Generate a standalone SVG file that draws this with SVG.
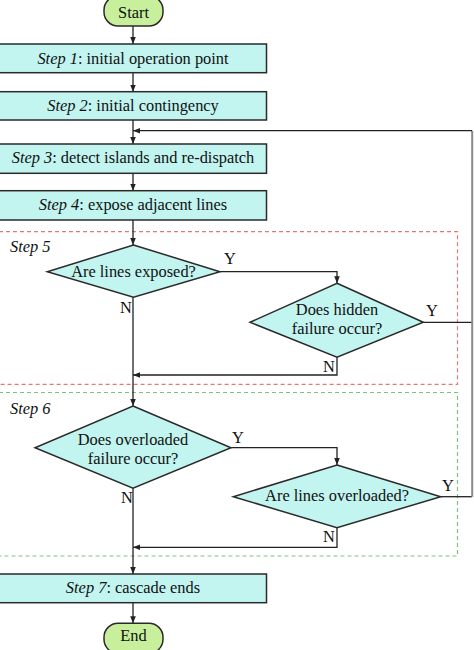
<svg xmlns="http://www.w3.org/2000/svg" width="474" height="650" viewBox="0 0 474 650" font-family="'Liberation Serif', 'DejaVu Serif', 'Times New Roman', serif">
<style>
text{font-family:"Liberation Serif","DejaVu Serif","Times New Roman",serif;font-size:16.4px;fill:#111}
.c{text-anchor:middle}
.i{font-style:italic}
.box{fill:#c2f4f0;stroke:#2a2a2a;stroke-width:1.5}
.term{fill:#c8f09c;stroke:#2a2a2a;stroke-width:1.5}
.dec{fill:#c2f4f0;stroke:#2a2a2a;stroke-width:1.5}
.ln{fill:none;stroke:#222;stroke-width:1.3}
.red{fill:none;stroke:#e07a7a;stroke-width:1.2;stroke-dasharray:4 3}
.grn{fill:none;stroke:#7cc47c;stroke-width:1.2;stroke-dasharray:4 3}
</style>
<defs>
<marker id="ah" viewBox="0 0 8 8" refX="8" refY="4" markerWidth="7" markerHeight="7" markerUnits="userSpaceOnUse" orient="auto">
<path d="M0,0.8 L8,4 L0,7.2 Z" fill="#222"/>
</marker>
</defs>
<rect width="474" height="650" fill="#fff"/>

<g id="step5-frame">
<rect class="red" x="-1" y="231.7" width="458.5" height="152.6"/>
<text class="i" x="10" y="252">Step 5</text>
</g>
<g id="step6-frame">
<rect class="grn" x="-1" y="392.5" width="458.5" height="163.5"/>
<text class="i" x="10" y="414">Step 6</text>
</g>

<g id="connectors">
<path class="ln" marker-end="url(#ah)" d="M133,26 V44"/>
<path class="ln" marker-end="url(#ah)" d="M133,72.7 V91.7"/>
<path class="ln" marker-end="url(#ah)" d="M133,120 V144"/>
<path class="ln" marker-end="url(#ah)" d="M133,173.3 V190.7"/>
<path class="ln" marker-end="url(#ah)" d="M133,220 V245"/>
<path class="ln" marker-end="url(#ah)" d="M220,271.7 H337 V283.3"/>
<path class="ln" marker-end="url(#ah)" d="M133,297.3 V406"/>
<path class="ln" marker-end="url(#ah)" d="M337,357.3 V375 H133"/>
<path class="ln" d="M423.3,322.3 H472"/>
<path class="ln" marker-end="url(#ah)" d="M231,447.7 H337 V465"/>
<path class="ln" marker-end="url(#ah)" d="M337,527.7 V547.3 H133"/>
<path class="ln" marker-end="url(#ah)" d="M133,488.3 V574"/>
<path class="ln" marker-end="url(#ah)" d="M133,602.7 V623.3"/>
<path class="ln" d="M440.7,496.7 H472"/>
<path fill="none" stroke="#8a8a8a" stroke-width="2" d="M472.2,496.7 V130.7"/>
<path class="ln" marker-end="url(#ah)" d="M472,130.7 H133"/>
<text x="224" y="264">Y</text>
<text x="120" y="313">N</text>
<text x="426" y="316">Y</text>
<text x="323" y="372">N</text>
<text x="232" y="443">Y</text>
<text x="121" y="503">N</text>
<text x="442" y="491">Y</text>
<text x="323" y="542">N</text>
</g>

<g id="start">
<rect class="term" x="104" y="-4" width="59" height="30" rx="14"/>
<text class="c" x="133.5" y="18">Start</text>
</g>
<g id="step1">
<rect class="box" x="-1" y="44" width="267.5" height="28.7"/>
<text class="c" x="133" y="63.5"><tspan class="i">Step 1</tspan>: initial operation point</text>
</g>
<g id="step2">
<rect class="box" x="-1" y="91.7" width="267.5" height="28.3"/>
<text class="c" x="133" y="110.5"><tspan class="i">Step 2</tspan>: initial contingency</text>
</g>
<g id="step3">
<rect class="box" x="-1" y="144" width="267.5" height="29.3"/>
<text class="c" x="133" y="163"><tspan class="i">Step 3</tspan>: detect islands and re-dispatch</text>
</g>
<g id="step4">
<rect class="box" x="-1" y="190.7" width="267.5" height="29.3"/>
<text class="c" x="133" y="209.5"><tspan class="i">Step 4</tspan>: expose adjacent lines</text>
</g>
<g id="dec-exposed">
<polygon class="dec" points="133.5,245 220,271.7 133.5,297.3 47.3,271.7"/>
<text class="c" x="133.5" y="277">Are lines exposed?</text>
</g>
<g id="dec-hidden">
<polygon class="dec" points="337,283.3 423.3,322.3 337,357.3 250,322.3"/>
<text class="c" x="337" y="315">Does hidden</text>
<text class="c" x="337" y="334">failure occur?</text>
</g>
<g id="dec-overload-failure">
<polygon class="dec" points="133,406 231,447.7 133,488.3 35,447.7"/>
<text class="c" x="133" y="444.5">Does overloaded</text>
<text class="c" x="133" y="463.5">failure occur?</text>
</g>
<g id="dec-overloaded">
<polygon class="dec" points="337,465 440.7,496.7 337,527.7 233.3,496.7"/>
<text class="c" x="337" y="501">Are lines overloaded?</text>
</g>
<g id="step7">
<rect class="box" x="-1" y="574" width="267.5" height="28.7"/>
<text class="c" x="133" y="593"><tspan class="i">Step 7</tspan>: cascade ends</text>
</g>
<g id="end">
<rect class="term" x="104" y="623.3" width="59" height="30" rx="14"/>
<text class="c" x="133.5" y="641">End</text>
</g>
</svg>
